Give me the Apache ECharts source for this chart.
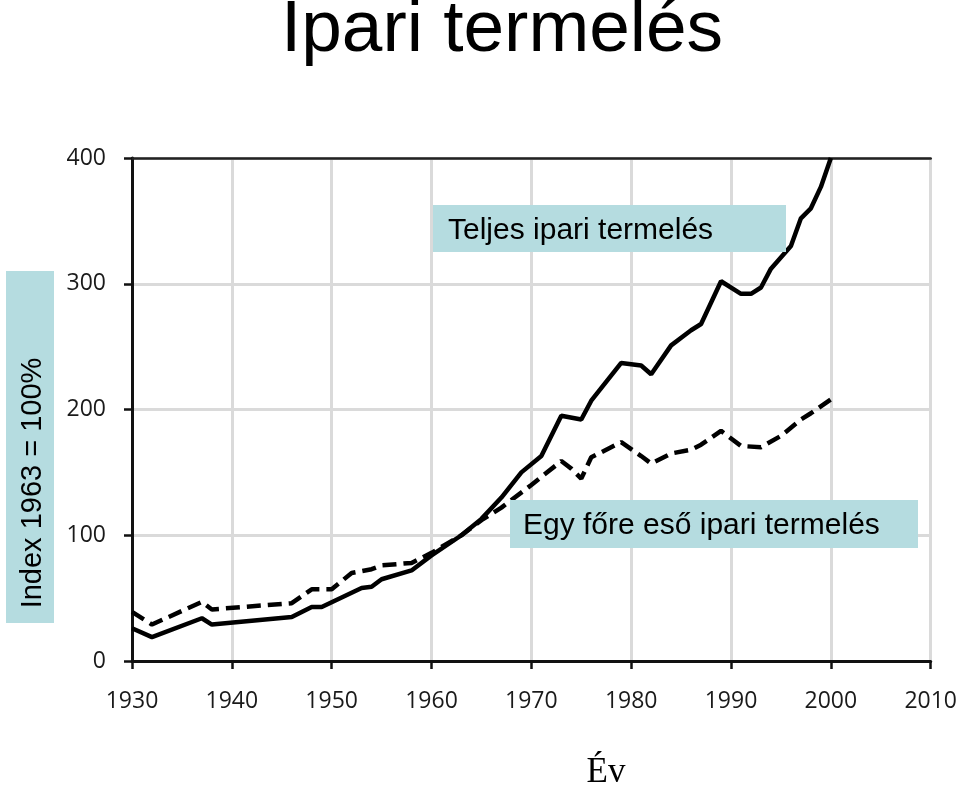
<!DOCTYPE html>
<html>
<head>
<meta charset="utf-8">
<script src="https://cdn.jsdelivr.net/npm/echarts@6/dist/echarts.min.js"></script>
<style>html,body{margin:0;padding:0;background:#fff}#c{width:960px;height:786px}</style>
</head>
<body>
<div id="c"></div>
<script>
const totalYears = [1930,1932,1937,1938,1946,1948,1949,1953,1954,1955,1958,1960,1963,1965,1967,1969,1971,1973,1975,1976,1979,1981,1982,1984,1986,1987,1989,1991,1992,1993,1994,1996,1997,1998,1999,2000];
const totalValues = [26,19,34,29,35,43,43,58,59,65,72,84,100,113,130,150,163,195,192,207,237,235,228,251,263,268,302,292,292,297,312,330,352,360,377,400];
const perCapitaYears = [1930,1932,1937,1938,1946,1948,1950,1952,1954,1955,1958,1960,1963,1965,1967,1970,1973,1974,1975,1976,1979,1981,1982,1984,1986,1987,1989,1991,1993,1995,1997,1998,2000];
const perCapitaValues = [39,29,47,41,46,57,57,70,73,76,78,86,100,112,122,140,159,153,145,162,174,163,157,165,168,172,183,171,170,179,192,197,208];
const xTicks = {min:1930, max:2010, interval:10};
const yTicks = {min:0, max:400, interval:100};
const titleText = 'Ipari termelés';
const yName = 'Index 1963 = 100%';
const xName = 'Év';
const totalLabel = 'Teljes ipari termelés';
const perCapitaLabel = 'Egy főre eső ipari termelés';

const zip = (a,b) => a.map((v,i)=>[v,b[i]]);
const chart = echarts.init(document.getElementById('c'));
const labelFont = '"Open Sans", sans-serif';
const boxColor = '#b5dce0';
chart.setOption({
  animation:false,
  grid:{left:132,right:27,top:158,bottom:125},
  xAxis:[{
    type:'value', min:xTicks.min, max:xTicks.max, interval:xTicks.interval,
    axisLine:{show:true,onZero:false,lineStyle:{color:'#111',width:3}},
    axisTick:{show:true,length:8,lineStyle:{color:'#111',width:2.5}},
    axisLabel:{fontFamily:labelFont,fontSize:23,color:'#1a1a1a',margin:29,formatter:v=>String(v)},
    splitLine:{show:true,lineStyle:{color:'#dadada',width:3}}
  },{
    type:'value', position:'top', min:xTicks.min, max:xTicks.max, interval:xTicks.interval,
    axisLine:{show:true,onZero:false,lineStyle:{color:'#222',width:2.5}},
    axisTick:{show:false}, axisLabel:{show:false}, splitLine:{show:false}
  }],
  yAxis:{
    type:'value', min:yTicks.min, max:yTicks.max, interval:yTicks.interval,
    axisLine:{show:true,lineStyle:{color:'#111',width:3}},
    axisTick:{show:true,length:8,lineStyle:{color:'#111',width:2.5}},
    axisLabel:{fontFamily:labelFont,fontSize:23,color:'#1a1a1a',margin:26},
    splitLine:{show:true,lineStyle:{color:'#dadada',width:3}}
  },
  series:[{
    type:'line', name:totalLabel, data:zip(totalYears,totalValues), showSymbol:false,
    lineStyle:{color:'#000',width:4.5}, z:5
  },{
    type:'line', name:perCapitaLabel, data:zip(perCapitaYears,perCapitaValues), showSymbol:false,
    lineStyle:{color:'#000',width:4.5,type:[14,7]}, z:4
  }],
  graphic:[
    {type:'text',x:502,y:31,style:{text:titleText,font:'73px "Liberation Sans", Arial, sans-serif',fill:'#000',textAlign:'center',textVerticalAlign:'middle'}},
    {type:'rect',shape:{x:6,y:271,width:48,height:352},style:{fill:boxColor}},
    {type:'text',x:33,y:483,rotation:Math.PI/2,style:{text:yName,font:'29px "Liberation Sans", Arial, sans-serif',fill:'#000',textAlign:'center',textVerticalAlign:'middle'}},
    {type:'rect',shape:{x:433,y:205,width:353,height:47},style:{fill:boxColor},z:10},
    {type:'text',x:448,y:231,z:11,style:{text:totalLabel,font:'30px "Liberation Sans", Arial, sans-serif',fill:'#000',textAlign:'left',textVerticalAlign:'middle'}},
    {type:'rect',shape:{x:510,y:500,width:408,height:48},style:{fill:boxColor},z:10},
    {type:'text',x:523,y:525.5,z:11,style:{text:perCapitaLabel,font:'30px "Liberation Sans", Arial, sans-serif',fill:'#000',textAlign:'left',textVerticalAlign:'middle'}},
    {type:'text',x:606,y:773,style:{text:xName,font:'35px "Liberation Serif", "Times New Roman", serif',fill:'#000',textAlign:'center',textVerticalAlign:'middle'}}
  ]
});
</script>
</body>
</html>
